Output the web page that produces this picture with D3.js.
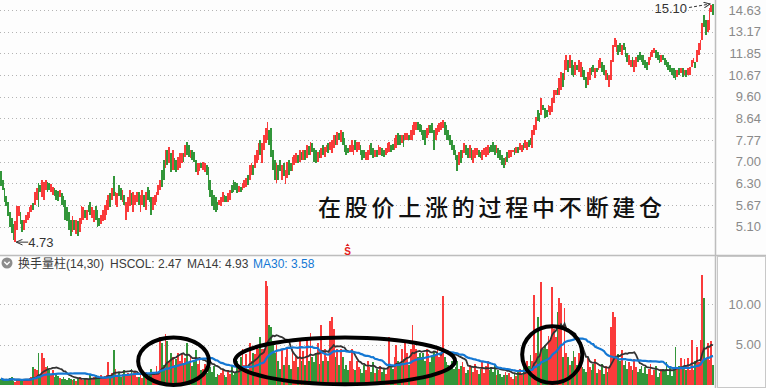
<!DOCTYPE html>
<html>
<head>
<meta charset="utf-8">
<script src="https://cdn.jsdelivr.net/npm/d3@7/dist/d3.min.js"></script>
<style>
  body { margin: 0; background: #fdfdfd; }
  svg { display: block; }
</style>
</head>
<body>
<div id="chart"></div>
<script>
// daily prices (open / close)
var opens = [
  6.67, 6.41, 6.17, 5.93, 5.76, 5.47, 5.33, 5.16, 4.73, 5.03,
  5.36, 5.49, 5.28, 5.03, 5.18, 5.28, 5.33, 5.49, 5.71, 5.68,
  5.82, 6.32, 6.26, 5.88, 5.82, 6.11, 6.35, 6.32, 6.05, 5.96,
  6.17, 6.11, 6.08, 5.88, 6.02, 5.93, 5.82, 5.60, 5.47, 5.28,
  4.96, 5.28, 4.92, 5.23, 4.98, 5.16, 5.28, 5.54, 5.28, 5.68,
  5.76, 5.33, 5.21, 5.63, 5.54, 5.33, 5.16, 5.23, 5.28, 5.41,
  5.54, 6.02, 5.82, 6.51, 5.68, 5.60, 6.26, 6.17, 5.74, 5.96,
  5.28, 5.49, 5.63, 6.02, 5.49, 5.68, 5.76, 6.05, 5.49, 5.68,
  5.96, 5.54, 6.20, 6.11, 5.88, 5.54, 5.68, 5.74, 5.96, 6.11,
  6.73, 7.06, 6.80, 7.41, 6.96, 7.31, 6.73, 7.13, 7.06, 6.73,
  6.80, 6.96, 7.31, 7.17, 7.71, 7.60, 7.13, 7.41, 7.34, 7.06,
  6.57, 6.67, 6.96, 6.73, 6.64, 6.90, 6.83, 6.41, 6.11, 5.96,
  5.88, 5.74, 5.68, 5.65, 5.74, 5.96, 5.91, 5.76, 5.82, 6.26,
  6.41, 6.35, 6.32, 6.05, 6.20, 6.11, 6.17, 6.20, 6.57, 6.41,
  6.57, 6.90, 6.80, 6.96, 7.06, 7.78, 6.96, 7.41, 7.67, 7.78,
  8.17, 8.25, 7.41, 7.06, 6.32, 6.90, 7.06, 6.41, 6.96, 6.29,
  6.47, 7.06, 6.96, 6.67, 6.90, 6.96, 7.24, 6.99, 7.34, 7.06,
  7.41, 7.13, 7.56, 7.24, 7.67, 7.49, 7.41, 6.99, 7.41, 7.13,
  7.60, 7.17, 7.34, 7.67, 7.41, 7.31, 7.49, 7.97, 7.60, 8.05,
  7.71, 8.09, 7.86, 7.60, 7.49, 7.34, 7.34, 7.24, 7.78, 7.34,
  7.41, 7.60, 7.41, 7.41, 7.06, 7.06, 7.24, 7.67, 7.49, 7.17,
  7.41, 7.24, 7.24, 7.49, 7.41, 7.24, 7.31, 7.34, 7.60, 7.63,
  7.41, 7.49, 8.05, 7.97, 7.67, 7.97, 7.78, 7.78, 7.97, 7.78,
  7.78, 7.97, 8.17, 8.49, 8.41, 8.37, 8.17, 8.17, 7.86, 7.97,
  8.37, 8.45, 8.17, 7.78, 7.97, 8.09, 8.17, 8.25, 8.49, 8.37,
  8.17, 7.97, 7.78, 7.60, 7.41, 7.24, 6.90, 7.41, 7.13, 7.31,
  7.60, 7.49, 7.13, 7.49, 6.96, 7.13, 7.24, 7.41, 7.34, 7.06,
  7.24, 7.17, 7.24, 7.52, 7.60, 7.71, 7.60, 7.31, 7.49, 7.41,
  7.24, 7.13, 6.90, 7.34, 7.13, 7.17, 7.34, 7.49, 7.31, 7.52,
  7.41, 7.34, 7.67, 7.49, 7.41, 7.78, 7.86, 7.49, 7.97, 8.17,
  9.00, 8.87, 8.79, 9.22, 9.09, 9.00, 8.91, 8.79, 8.91, 9.31,
  9.68, 10.01, 9.68, 9.91, 10.77, 10.40, 10.92, 11.47, 11.03, 11.47,
  11.19, 10.66, 11.19, 10.82, 10.56, 11.08, 10.92, 10.56, 10.16, 10.40,
  11.08, 11.19, 10.51, 11.03, 10.92, 11.03, 11.36, 11.19, 10.40, 10.77,
  10.06, 10.40, 11.36, 12.22, 11.92, 12.34, 12.46, 11.75, 12.46, 12.22,
  11.86, 11.19, 11.08, 11.64, 10.82, 11.08, 11.75, 11.92, 11.75, 11.75,
  11.47, 11.36, 11.19, 11.47, 11.64, 11.86, 12.04, 11.92, 11.75, 11.36,
  11.75, 11.58, 11.47, 11.36, 11.19, 11.03, 11.03, 10.92, 10.56, 11.03,
  10.77, 11.03, 10.66, 10.92, 10.66, 10.66, 11.08, 11.30, 11.36, 11.36,
  11.75, 12.04, 12.64, 14.28, 13.93, 13.14, 13.27, 14.49, 15.10
];
var closes = [
  6.23, 6.11, 5.76, 5.63, 5.36, 5.08, 4.94, 4.79, 5.23, 5.63,
  5.65, 5.16, 4.96, 5.28, 5.41, 5.47, 5.60, 5.68, 5.54, 6.05,
  6.17, 5.60, 6.05, 6.41, 6.35, 6.41, 6.05, 6.11, 6.29, 6.20,
  5.91, 5.82, 5.79, 6.11, 5.68, 5.60, 5.28, 5.23, 5.03, 4.87,
  5.36, 5.03, 5.28, 4.87, 5.33, 5.63, 5.60, 5.33, 5.54, 5.47,
  5.41, 5.60, 5.54, 5.28, 5.08, 5.11, 5.41, 5.54, 5.68, 5.82,
  5.96, 5.60, 6.17, 5.91, 6.05, 6.02, 5.91, 5.82, 6.11, 5.68,
  5.76, 5.88, 6.11, 5.68, 6.05, 5.96, 6.05, 5.68, 5.96, 6.11,
  5.60, 6.05, 5.82, 5.76, 5.41, 5.88, 5.96, 6.05, 6.26, 6.41,
  6.20, 6.41, 7.41, 6.90, 7.52, 6.64, 7.41, 6.73, 6.64, 7.17,
  7.31, 7.31, 6.99, 7.60, 7.24, 7.17, 7.41, 7.06, 6.99, 6.64,
  6.96, 6.96, 6.80, 6.99, 6.96, 6.57, 6.11, 5.88, 5.63, 5.54,
  5.47, 5.54, 5.82, 5.88, 6.05, 5.74, 5.74, 6.02, 6.11, 6.02,
  6.05, 6.11, 6.02, 6.23, 6.05, 6.32, 6.41, 6.47, 6.26, 6.90,
  6.96, 6.57, 7.24, 7.41, 7.67, 7.24, 7.67, 7.97, 8.25, 8.49,
  7.60, 7.17, 6.73, 6.41, 6.96, 6.41, 6.67, 6.90, 6.51, 6.73,
  6.99, 6.57, 6.67, 7.17, 7.24, 7.31, 6.96, 7.41, 7.06, 7.41,
  7.06, 7.60, 7.24, 7.71, 7.34, 6.99, 6.96, 7.34, 7.13, 7.49,
  7.24, 7.52, 7.60, 7.31, 7.71, 7.78, 7.97, 7.60, 8.09, 7.78,
  8.17, 7.60, 7.34, 7.24, 7.31, 7.60, 7.78, 7.60, 7.41, 7.71,
  7.71, 7.24, 7.06, 7.13, 7.34, 7.41, 7.60, 7.24, 7.13, 7.41,
  7.17, 7.60, 7.52, 7.20, 7.17, 7.49, 7.67, 7.71, 7.34, 7.41,
  7.86, 7.97, 7.60, 7.60, 7.97, 7.52, 8.05, 8.05, 7.78, 8.17,
  8.37, 8.49, 8.49, 8.17, 8.09, 7.97, 7.78, 7.60, 8.25, 8.37,
  8.05, 8.05, 7.41, 8.25, 8.37, 8.45, 8.49, 8.57, 7.97, 7.78,
  7.78, 7.60, 7.41, 7.24, 7.06, 6.67, 7.34, 6.96, 7.41, 7.67,
  7.24, 7.13, 7.60, 7.06, 7.41, 7.49, 7.49, 7.17, 7.13, 7.41,
  7.49, 7.52, 7.60, 7.31, 7.34, 7.34, 7.24, 7.60, 7.13, 7.06,
  6.90, 6.80, 7.17, 6.99, 7.41, 7.41, 7.41, 7.24, 7.52, 7.31,
  7.67, 7.60, 7.41, 7.78, 7.71, 7.52, 7.60, 8.17, 8.37, 8.70,
  8.53, 8.49, 9.54, 9.00, 8.66, 8.70, 9.22, 9.17, 9.54, 9.91,
  9.91, 9.68, 10.51, 10.82, 10.06, 11.47, 11.75, 10.82, 11.75, 10.66,
  10.56, 11.36, 10.92, 11.47, 11.36, 10.56, 10.40, 10.01, 10.82, 11.03,
  10.66, 10.82, 11.03, 10.82, 11.47, 11.58, 10.82, 10.66, 10.92, 10.40,
  10.66, 11.47, 12.34, 12.76, 12.64, 11.75, 11.92, 12.34, 12.04, 11.64,
  11.36, 11.75, 11.47, 11.08, 11.47, 11.64, 11.36, 11.47, 11.36, 11.19,
  11.03, 10.92, 11.64, 11.92, 12.04, 12.16, 11.58, 11.47, 11.30, 11.75,
  11.47, 11.19, 11.08, 10.92, 10.82, 10.66, 10.51, 10.40, 10.92, 10.66,
  11.03, 10.56, 10.92, 10.56, 11.03, 11.08, 11.47, 11.58, 11.03, 12.04,
  12.46, 12.64, 13.73, 13.46, 12.95, 13.93, 14.78, 15.00, 14.28
];
// turnover rate (%) per day
var turnover = [
  0.8, 0.6, 0.5, 0.7, 0.6, 0.9, 1.0, 0.5, 0.4, 0.6,
  0.7, 0.5, 0.6, 0.7, 0.8, 0.6, 0.9, 1.0, 2.2, 2.0,
  1.8, 4.0, 1.2, 4.0, 3.3, 2.2, 2.3, 1.8, 1.3, 1.8,
  1.0, 1.5, 1.1, 0.9, 0.8, 1.0, 0.7, 0.6, 0.9, 0.7,
  0.6, 0.8, 0.5, 0.7, 1.0, 0.8, 0.6, 0.9, 0.7, 0.6,
  1.2, 0.9, 1.0, 1.3, 0.8, 0.9, 1.2, 1.0, 1.1, 1.3,
  2.8, 1.2, 1.5, 4.3, 2.0, 1.2, 1.6, 1.0, 1.4, 1.8,
  1.1, 1.5, 1.3, 2.0, 1.2, 1.6, 1.0, 1.0, 1.4, 0.9,
  1.2, 1.6, 1.0, 1.3, 2.0, 1.5, 1.2, 2.4, 1.6, 5.9,
  5.2, 2.5, 6.3, 5.4, 3.0, 4.0, 3.5, 2.5, 3.2, 4.0,
  3.0, 3.8, 2.6, 3.3, 5.2, 2.8, 3.5, 2.4, 3.0, 4.4,
  2.6, 3.2, 1.8, 2.0, 2.6, 1.5, 3.0, 2.2, 1.6, 2.4,
  1.0, 1.4, 1.2, 1.5, 2.0, 1.2, 1.0, 1.8, 1.4, 2.5,
  1.3, 1.6, 3.0, 2.2, 3.5, 4.5, 2.5, 3.8, 2.0, 5.2,
  3.0, 4.0, 3.8, 5.0, 4.5, 6.0, 4.5, 4.5, 12.9, 12.3,
  7.4, 7.2, 5.5, 4.0, 5.0, 3.0, 2.0, 4.5, 2.5, 3.5,
  4.5, 2.5, 2.0, 4.5, 3.0, 3.6, 2.2, 5.5, 3.0, 4.2,
  2.5, 6.0, 3.0, 6.5, 3.5, 2.8, 4.0, 5.2, 2.6, 7.4,
  3.0, 4.5, 3.5, 3.0, 7.9, 8.4, 7.0, 3.5, 4.5, 2.5,
  4.5, 3.5, 2.0, 2.5, 1.8, 3.0, 4.5, 2.0, 1.8, 3.0,
  2.2, 2.0, 1.5, 2.5, 1.8, 3.0, 2.2, 1.6, 2.8, 1.5,
  2.0, 1.8, 2.4, 1.6, 2.0, 1.4, 2.2, 5.9, 2.5, 2.0,
  3.5, 5.0, 3.0, 2.5, 4.5, 3.2, 5.5, 4.0, 2.5, 4.5,
  7.4, 5.0, 4.5, 3.5, 4.0, 3.5, 4.0, 3.0, 4.5, 3.8,
  2.8, 3.5, 4.2, 3.8, 4.6, 3.5, 4.0, 11.0, 3.5, 2.8,
  2.5, 2.0, 3.0, 2.0, 2.2, 3.0, 2.0, 2.4, 2.8, 2.2,
  1.5, 1.8, 2.5, 2.2, 1.6, 2.6, 1.8, 1.4, 2.0, 2.8,
  1.5, 2.4, 3.0, 1.8, 2.2, 1.6, 2.5, 1.2, 1.8, 1.4,
  1.0, 1.3, 1.6, 1.2, 1.5, 1.0, 0.8, 1.4, 1.1, 1.6,
  2.0, 1.3, 2.6, 2.2, 3.0, 2.4, 3.7, 3.0, 11.2, 4.0,
  8.4, 3.5, 12.8, 4.5, 5.0, 4.5, 6.1, 5.5, 12.1, 7.0,
  6.0, 9.0, 10.8, 10.2, 3.5, 9.5, 4.0, 3.5, 2.5, 3.0,
  4.2, 3.5, 2.5, 4.0, 3.0, 2.2, 2.0, 1.6, 3.4, 2.2,
  1.8, 2.6, 3.2, 1.5, 2.0, 1.8, 2.6, 1.4, 2.4, 1.6,
  2.2, 7.2, 9.0, 8.4, 3.5, 3.8, 3.0, 4.3, 2.5, 3.0,
  2.0, 2.8, 2.4, 1.8, 3.2, 2.2, 1.6, 2.0, 2.4, 1.5,
  2.2, 1.4, 2.0, 2.6, 1.2, 1.8, 2.3, 1.0, 1.5, 2.0,
  2.0, 1.7, 2.8, 1.2, 2.4, 1.1, 2.2, 4.7, 2.2, 2.3,
  3.4, 2.0, 3.2, 1.8, 3.38, 1.8, 5.6, 1.8, 3.0, 4.7,
  2.8, 5.6, 13.6, 10.8, 3.2, 5.2, 3.05, 5.4, 2.47
];
var priceTicks = [5.10, 5.67, 6.30, 7.00, 7.77, 8.64, 9.60, 10.67, 11.85, 13.17, 14.63];
var turnTicks = [5, 10];
var maPeriods = [14, 30];
var caption = "在股价上涨的过程中不断建仓";
// hand-drawn ellipses: centre / half width in trading days, top / bottom in turnover units
var rings = [
  {c: 96.5, r: 19.8, top: 5.9, bottom: 0},
  {c: 192.3, r: 61.5, top: 5.9, bottom: 0.1},
  {c: 308.1, r: 16.8, top: 7.3, bottom: 0.25}
];

var W = 766, H = 388;
var red = "#fa3b3b", green = "#33963a";
var numFont = "'Liberation Sans', Arial, sans-serif";
var cjkFont = "'Noto Sans CJK SC', sans-serif";

var svg = d3.select("#chart").append("svg")
    .attr("width", W).attr("height", H)
    .style("background", "#fdfdfd");

var n = opens.length;
var x = d3.scaleBand()
    .domain(d3.range(n))
    .range([0, 714])
    .paddingInner(0.02)
    .paddingOuter(0.01);
var bw = x.bandwidth();
var xi = d3.scaleLinear().domain([0, n - 1]).range([x(0) + bw / 2, x(n - 1) + bw / 2]);

var y = d3.scaleLog().domain([4.465, 15.36]).range([254, 0]);
var yv = d3.scaleLinear().domain([0, 16]).range([385, 256]);

function up(i) { return closes[i] >= opens[i]; }

// grid lines
svg.append("g").selectAll("line")
    .data(priceTicks).enter().append("line")
    .attr("x1", 0).attr("x2", 714)
    .attr("y1", function (d) { return Math.round(y(d)) + 0.5; })
    .attr("y2", function (d) { return Math.round(y(d)) + 0.5; })
    .attr("stroke", "#b4b4b4").attr("stroke-dasharray", "1,3");
svg.append("g").selectAll("line")
    .data(turnTicks).enter().append("line")
    .attr("x1", 0).attr("x2", 714)
    .attr("y1", function (d) { return Math.round(yv(d)) + 0.5; })
    .attr("y2", function (d) { return Math.round(yv(d)) + 0.5; })
    .attr("stroke", "#b4b4b4").attr("stroke-dasharray", "1,3");

// right axes
var ax1 = svg.append("g").attr("transform", "translate(716,0)")
    .call(d3.axisRight(y).tickValues(priceTicks).tickSize(0).tickPadding(0)
        .tickFormat(d3.format(".2f")));
var ax2 = svg.append("g").attr("transform", "translate(716,0)")
    .call(d3.axisRight(yv).tickValues(turnTicks).tickSize(0).tickPadding(0)
        .tickFormat(d3.format(".2f")));
[ax1, ax2].forEach(function (a) {
  a.select(".domain").remove();
  a.selectAll("text")
      .attr("x", 45).attr("text-anchor", "end")
      .style("font-family", numFont).style("font-size", "13px")
      .attr("fill", "#8a8a8a");
});

// candles
svg.append("g").attr("shape-rendering", "crispEdges")
    .selectAll("rect")
    .data(d3.range(n)).enter().append("rect")
    .attr("x", function (i) { return x(i); })
    .attr("width", bw)
    .attr("y", function (i) { return y(Math.max(opens[i], closes[i])); })
    .attr("height", function (i) { return Math.max(1.5, Math.abs(y(opens[i]) - y(closes[i]))); })
    .attr("fill", function (i) { return up(i) ? red : green; });

// turnover bars
svg.append("g").attr("shape-rendering", "crispEdges")
    .selectAll("rect")
    .data(turnover).enter().append("rect")
    .attr("x", function (d, i) { return x(i); })
    .attr("width", bw)
    .attr("y", function (d) { return yv(d); })
    .attr("height", function (d) { return yv(0) - yv(d); })
    .attr("fill", function (d, i) { return up(i) ? red : green; });

// moving averages of turnover
function movingAvg(p) {
  return turnover.map(function (d, i) {
    return d3.mean(turnover.slice(Math.max(0, i - p + 1), i + 1));
  });
}
var ma14 = movingAvg(maPeriods[0]);
var ma30 = movingAvg(maPeriods[1]);
var line = d3.line()
    .x(function (d, i) { return xi(i); })
    .y(function (d) { return yv(d); });
svg.append("path").datum(ma14)
    .attr("d", line).attr("fill", "none")
    .attr("stroke", "#333").attr("stroke-width", 1.8);
svg.append("path").datum(ma30)
    .attr("d", line).attr("fill", "none")
    .attr("stroke", "#1478d4").attr("stroke-width", 2.2);

// panel frames
svg.append("line").attr("x1", 715.5).attr("x2", 715.5).attr("y1", 0).attr("y2", H)
    .attr("stroke", "#bdbdbd").attr("stroke-width", 1.5);
svg.append("line").attr("x1", 0).attr("x2", W).attr("y1", 255.5).attr("y2", 255.5)
    .attr("stroke", "#bdbdbd").attr("stroke-width", 1.5);
svg.append("rect").attr("x", 717.5).attr("y", 256.5).attr("width", 48).attr("height", 131)
    .attr("fill", "none").attr("stroke", "#c8c8c8");

// indicator header
svg.append("circle").attr("cx", 7).attr("cy", 263).attr("r", 5.5).attr("fill", "#8c8c8c");
svg.append("path").attr("d", "M4.3,261.8 L7,264.6 L9.7,261.8")
    .attr("fill", "none").attr("stroke", "#fff").attr("stroke-width", 1.4);
var last = n - 1;
var head = svg.append("text").attr("y", 267.5)
    .style("font-family", numFont).style("font-size", "12px");
head.append("tspan").attr("x", 18).attr("fill", "#3a3a3a")
    .style("font-family", cjkFont).text("换手量柱");
head.append("tspan").attr("fill", "#3a3a3a").text("(14,30)");
head.append("tspan").attr("x", 110).attr("fill", "#3a3a3a")
    .text("HSCOL: " + turnover[last].toFixed(2));
head.append("tspan").attr("x", 187).attr("fill", "#3a3a3a")
    .text("MA14: " + ma14[last].toFixed(2));
head.append("tspan").attr("x", 253).attr("fill", "#1478d4")
    .text("MA30: " + ma30[last].toFixed(2));

// high / low marks
var hiIdx = d3.maxIndex(opens.map(function (o, i) { return Math.max(o, closes[i]); }));
var loIdx = d3.minIndex(opens.map(function (o, i) { return Math.min(o, closes[i]); }));
var hiVal = Math.max(opens[hiIdx], closes[hiIdx]);
var loVal = Math.min(opens[loIdx], closes[loIdx]);

svg.append("defs").append("marker")
    .attr("id", "arr").attr("viewBox", "0 0 10 10").attr("refX", 9).attr("refY", 5)
    .attr("markerWidth", 7).attr("markerHeight", 7).attr("orient", "auto")
    .append("path").attr("d", "M0,1 L9,5 L0,9").attr("fill", "none")
    .attr("stroke", "#333").attr("stroke-width", 1.4);

var hx = xi(hiIdx), hy = y(hiVal);
svg.append("line").attr("x1", hx - 24).attr("y1", hy + 4).attr("x2", hx - 3).attr("y2", hy + 0.5)
    .attr("stroke", "#333").attr("stroke-dasharray", "3,2").attr("marker-end", "url(#arr)");
svg.append("text").attr("x", hx - 26).attr("y", hy + 9.5).attr("text-anchor", "end")
    .style("font-family", numFont).style("font-size", "13px").attr("fill", "#333")
    .text(hiVal.toFixed(2));

var lx = xi(loIdx), ly = y(loVal);
svg.append("line").attr("x1", lx + 13).attr("y1", ly).attr("x2", lx + 1).attr("y2", ly)
    .attr("stroke", "#333").attr("marker-end", "url(#arr)");
svg.append("text").attr("x", lx + 13).attr("y", ly + 5)
    .style("font-family", numFont).style("font-size", "13px").attr("fill", "#333")
    .text(loVal.toFixed(2));

// sell marker
svg.append("path").attr("d", "M345.5,246 L347.5,243.5 L349.5,246 Z").attr("fill", "#e32020");
svg.append("text").attr("x", 347.5).attr("y", 254.5).attr("text-anchor", "middle")
    .style("font-family", numFont).style("font-size", "10px").style("font-weight", "bold")
    .attr("fill", "#e32020").text("S");

// caption
svg.append("text").attr("x", 318).attr("y", 216)
    .attr("textLength", 344).attr("lengthAdjust", "spacing")
    .style("font-family", cjkFont).style("font-size", "23px").style("font-weight", "500")
    .attr("fill", "#111").text(caption);

// ellipses
svg.append("g").selectAll("ellipse")
    .data(rings).enter().append("ellipse")
    .attr("cx", function (d) { return xi(d.c); })
    .attr("rx", function (d) { return xi(d.c + d.r) - xi(d.c); })
    .attr("cy", function (d) { return (yv(d.top) + yv(d.bottom)) / 2; })
    .attr("ry", function (d) { return (yv(d.bottom) - yv(d.top)) / 2; })
    .attr("fill", "none").attr("stroke", "#000").attr("stroke-width", 4);
</script>
</body>
</html>
